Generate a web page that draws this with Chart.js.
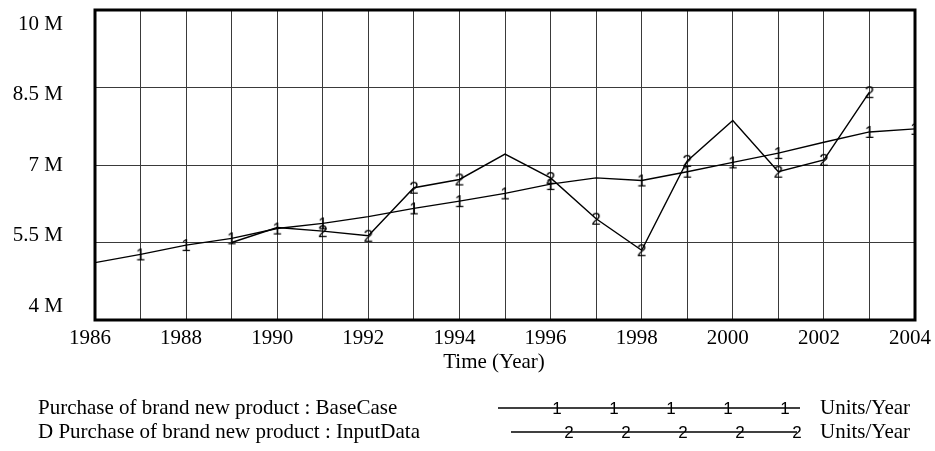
<!DOCTYPE html>
<html>
<head>
<meta charset="utf-8">
<script src="https://cdn.jsdelivr.net/npm/chart.js@4.4.1/dist/chart.umd.min.js"></script>
<style>
  html, body { margin: 0; padding: 0; background: #fff; }
  #wrap { width: 935px; height: 451px; position: relative; }
</style>
</head>
<body>
<div id="wrap"><canvas id="c" width="935" height="451"></canvas></div>
<script>
// Simulation years
const years = [1986, 1987, 1988, 1989, 1990, 1991, 1992, 1993, 1994, 1995,
               1996, 1997, 1998, 1999, 2000, 2001, 2002, 2003, 2004];

// Purchase of brand new product : BaseCase (Units/Year)
const baseCase = [5.11e6, 5.27e6, 5.45e6, 5.58e6, 5.77e6, 5.87e6, 6.00e6, 6.16e6, 6.30e6, 6.45e6,
                  6.63e6, 6.75e6, 6.70e6, 6.87e6, 7.05e6, 7.23e6, 7.44e6, 7.64e6, 7.70e6];

// D Purchase of brand new product : InputData (Units/Year)
const inputData = [null, null, null, 5.50e6, 5.79e6, 5.72e6, 5.63e6, 6.56e6, 6.72e6, 7.21e6,
                   6.75e6, 5.96e6, 5.35e6, 7.08e6, 7.86e6, 6.87e6, 7.10e6, 8.41e6, null];

// Years carrying a series number marker
const baseMarkYears = [1987, 1988, 1989, 1990, 1991, 1993, 1994, 1995, 1996, 1998, 1999, 2000, 2001, 2003, 2004];
const inputMarkYears = [1991, 1992, 1993, 1994, 1996, 1997, 1998, 1999, 2001, 2002, 2003];

// Axis ticks
const yTicks = [4e6, 5.5e6, 7e6, 8.5e6, 10e6];
const xLabelYears = [1986, 1988, 1990, 1992, 1994, 1996, 1998, 2000, 2002, 2004];

const seriesNames = ['Purchase of brand new product : BaseCase',
                     'D Purchase of brand new product : InputData'];
const unitsLabel = 'Units/Year';
const axisTitle = 'Time (Year)';

const SERIF = '"Liberation Serif", "Times New Roman", serif';
const FONT_SIZE = 21;

// Small digit glyphs used as point markers, centred on the point
function makeMarker(ch) {
  const c = document.createElement('canvas');
  c.width = 16; c.height = 20;
  const g = c.getContext('2d');
  const size = 17;
  g.font = size + 'px "Liberation Sans", Arial, sans-serif';
  g.fillStyle = '#000';
  g.textAlign = 'center';
  g.textBaseline = 'alphabetic';
  g.fillText(ch, 8, 10 + 0.716 * size / 2);
  return c;
}
const mark1 = makeMarker('1');
const mark2 = makeMarker('2');

const toPoints = vals => years.map((yr, i) => ({ x: yr, y: vals[i] }));

// Remove the automatic edge padding that scales ask for
const noEdgePadding = s => {
  s.paddingTop = 0; s.paddingBottom = 0; s.paddingLeft = 0; s.paddingRight = 0;
};

// Thick frame around the plot area
const framePlugin = {
  id: 'frame',
  afterDatasetsDraw(chart) {
    const { ctx, chartArea: a } = chart;
    ctx.save();
    ctx.strokeStyle = '#000';
    ctx.lineWidth = 3;
    ctx.strokeRect(a.left, a.top, a.right - a.left, a.bottom - a.top);
    ctx.restore();
  }
};

// Axis title and the two-row legend under the plot
const legendPlugin = {
  id: 'bottomLegend',
  afterDraw(chart) {
    const ctx = chart.ctx;
    ctx.save();
    ctx.fillStyle = '#000';
    ctx.font = FONT_SIZE + 'px ' + SERIF;
    ctx.textBaseline = 'middle';
    ctx.textAlign = 'center';
    ctx.fillText(axisTitle, 494, 362);

    const rows = [
      { y: 408, x0: 498, x1: 800, marks: [557, 614, 671, 728, 785], img: mark1 },
      { y: 432, x0: 511, x1: 797, marks: [569, 626, 683, 740, 797], img: mark2 }
    ];
    rows.forEach((r, i) => {
      ctx.textAlign = 'left';
      ctx.fillText(seriesNames[i], 38, r.y);
      ctx.strokeStyle = '#000';
      ctx.lineWidth = 1.4;
      ctx.beginPath();
      ctx.moveTo(r.x0, r.y);
      ctx.lineTo(r.x1, r.y);
      ctx.stroke();
      r.marks.forEach(mx => ctx.drawImage(r.img, mx - r.img.width / 2, r.y - r.img.height / 2));
      ctx.fillText(unitsLabel, 820, r.y);
    });
    ctx.restore();
  }
};

new Chart(document.getElementById('c'), {
  type: 'line',
  data: {
    datasets: [
      {
        label: seriesNames[0],
        data: toPoints(baseCase),
        borderColor: '#000',
        borderWidth: 1.4,
        tension: 0,
        pointStyle: mark1,
        pointRadius: c => baseMarkYears.includes(years[c.dataIndex]) ? 4 : 0,
        xAxisID: 'x',
        yAxisID: 'y'
      },
      {
        label: seriesNames[1],
        data: toPoints(inputData),
        borderColor: '#000',
        borderWidth: 1.4,
        tension: 0,
        spanGaps: false,
        pointStyle: mark2,
        pointRadius: c => inputMarkYears.includes(years[c.dataIndex]) ? 4 : 0,
        xAxisID: 'x',
        yAxisID: 'y'
      }
    ]
  },
  options: {
    responsive: false,
    animation: false,
    events: [],
    layout: { padding: { left: 0, right: 20, top: 10, bottom: 0 } },
    plugins: { legend: { display: false }, tooltip: { enabled: false } },
    scales: {
      x: {
        type: 'linear',
        min: 1986,
        max: 2004,
        afterBuildTicks: axis => { axis.ticks = years.map(v => ({ value: v })); },
        ticks: {
          autoSkip: false,
          maxRotation: 0,
          padding: 6,
          labelOffset: -5,
          color: '#000',
          font: { family: SERIF, size: FONT_SIZE },
          callback: v => xLabelYears.includes(v) ? String(v) : ''
        },
        grid: { color: '#3a3a3a', lineWidth: 1, drawTicks: false },
        border: { display: false },
        afterFit: s => { s.height = 131; noEdgePadding(s); }
      },
      y: {
        type: 'linear',
        position: 'left',
        min: 4e6,
        max: 10e6,
        afterBuildTicks: axis => { axis.ticks = yTicks.map(v => ({ value: v })); },
        ticks: { display: false },
        grid: { color: '#3a3a3a', lineWidth: 1, drawTicks: false },
        border: { display: false },
        afterFit: s => { s.width = 0; noEdgePadding(s); }
      },
      yl: {
        type: 'linear',
        position: 'left',
        min: 3.702e6,
        max: 10.298e6,
        afterBuildTicks: axis => { axis.ticks = yTicks.map(v => ({ value: v })); },
        ticks: {
          padding: 32,
          color: '#000',
          font: { family: SERIF, size: FONT_SIZE },
          callback: v => (v / 1e6) + ' M'
        },
        grid: { display: false, drawTicks: false },
        border: { display: false },
        afterFit: s => { s.width = 95; noEdgePadding(s); }
      }
    }
  },
  plugins: [framePlugin, legendPlugin]
});
</script>
</body>
</html>
